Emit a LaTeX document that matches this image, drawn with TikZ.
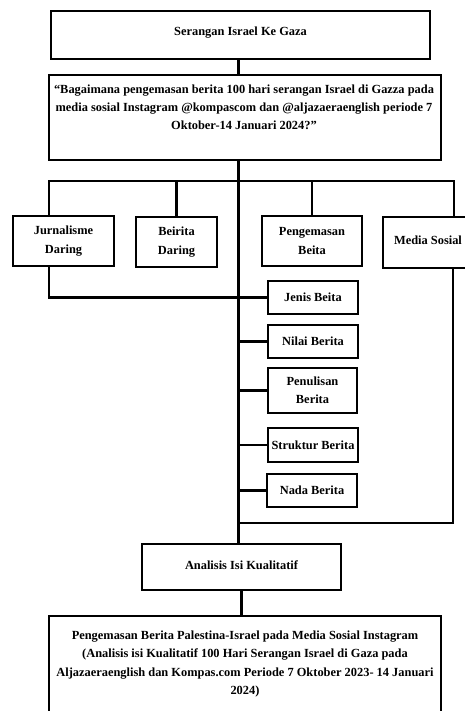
\documentclass[tikz,border=0pt]{standalone}
\usepackage{fontspec}
\setmainfont{Liberation Serif}
\begin{document}
\begin{tikzpicture}[x=1pt,y=-1pt,
  box/.style={draw=black,line width=1.6pt,inner sep=0pt,fill=white},
  txt/.style={font=\fontsize{12.4}{18.2}\selectfont\bfseries,align=center,inner sep=0pt},
  conn/.style={line width=2.2pt,line cap=rect}]
\useasboundingbox (0,0) rectangle (465,711);
\clip (0,0) rectangle (465,711);
% coordinates
\coordinate (bL) at (49,181);
\coordinate (bR) at (454,181);
\coordinate (tr) at (238.5,0);
\coordinate (rr) at (453,523);
% boxes
\node[box,minimum width=379,minimum height=48] (top) at (240.5,35) {};
\node[box,minimum width=392,minimum height=85] (q) at (245,117.5) {};
\node[box,minimum width=101,minimum height=50] (j) at (63.5,241) {};
\node[box,minimum width=81,minimum height=50] (b) at (176.5,242) {};
\node[box,minimum width=100,minimum height=50] (p) at (312,241) {};
\node[box,minimum width=91,minimum height=51] (m) at (428.5,242.5) {};
\node[box,minimum width=90,minimum height=33] (jb) at (313,297.5) {};
\node[box,minimum width=90,minimum height=33] (nb) at (313,341.5) {};
\node[box,minimum width=89,minimum height=45] (pb) at (312.5,390.5) {};
\node[box,minimum width=90,minimum height=34] (sb) at (313,445) {};
\node[box,minimum width=90,minimum height=33] (db) at (312,490.5) {};
\node[box,minimum width=199,minimum height=46] (a) at (241.5,567) {};
\node[box,minimum width=392,minimum height=100] (f) at (245,666) {};
% texts
\node[txt] (ttop) at (240.5,33) {Serangan Israel Ke Gaza};
\node[txt] (tq) at (244,107.5) {“Bagaimana pengemasan berita 100 hari serangan Israel di Gazza pada\\media sosial Instagram @kompascom dan @aljazaeraenglish periode 7\\Oktober-14 Januari 2024?”};
\node[txt] (tj) at (j.center) {Jurnalisme\\Daring};
\node[txt] (tb) at (b.center) {Beirita\\Daring};
\node[txt] (tp) at (p.center) {Pengemasan\\Beita};
\node[txt] (tm) at (428,240) {Media Sosial};
\node[txt] (tjb) at (jb.center) {Jenis Beita};
\node[txt] (tnb) at (nb.center) {Nilai Berita};
\node[txt] (tpb) at (pb.center) {Penulisan\\Berita};
\node[txt] (tsb) at (sb.center) {Struktur Berita};
\node[txt] (tdb) at (db.center) {Nada Berita};
\node[txt] (ta) at (241.5,565) {Analisis Isi Kualitatif};
\node[txt] (tf) at (245,664) {Pengemasan Berita Palestina-Israel pada Media Sosial Instagram\\(Analisis isi Kualitatif 100 Hari Serangan Israel di Gaza pada\\Aljazaeraenglish dan Kompas.com Periode 7 Oktober 2023- 14 Januari\\2024)};
% connectors
\draw[conn] (top.south -| tr) -- (q.north -| tr);
\draw[conn] (q.south -| tr) -- (a.north -| tr);
\draw[conn] (j.north -| bL) -- (bL) -- (bR) -- (m.north -| bR);
\draw[conn] (b.north) -- (b.north |- bL);
\draw[conn] (p.north) -- (p.north |- bL);
\draw[conn] (j.south -| bL) -- (bL |- jb.west) -- (jb.west);
\draw[conn] (tr |- nb.west) -- (nb.west);
\draw[conn] (tr |- pb.west) -- (pb.west);
\draw[conn] (tr |- sb.west) -- (sb.west);
\draw[conn] (tr |- db.west) -- (db.west);
\draw[conn] (m.south -| rr) -- (rr) -- (tr |- rr);
\draw[conn] (a.south) -- (a.south |- f.north);
\end{tikzpicture}
\end{document}
